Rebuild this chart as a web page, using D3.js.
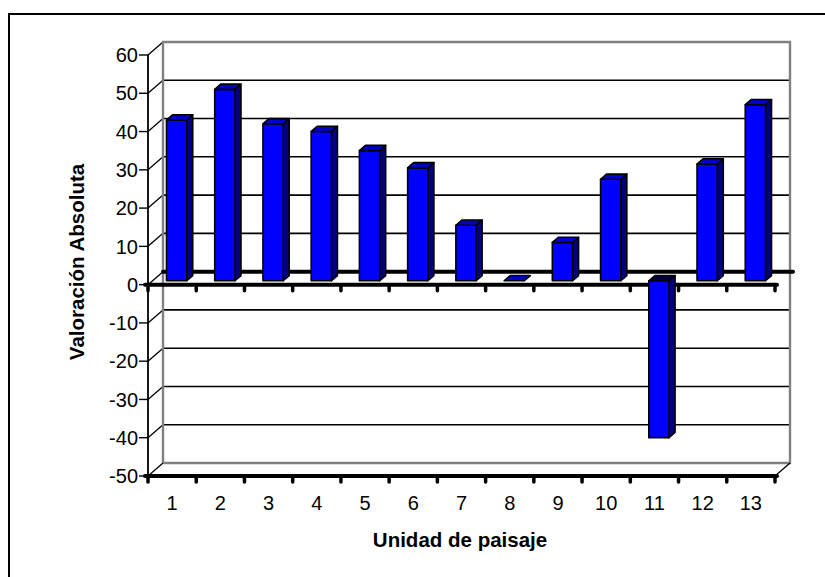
<!DOCTYPE html>
<html><head><meta charset="utf-8">
<script src="https://cdn.jsdelivr.net/npm/d3@7"></script>
<style>body{margin:0;background:#fff}svg{display:block}text{font-family:Arial,"Liberation Sans",sans-serif}</style>
</head><body>
<svg id="c" width="825" height="577"></svg>
<script>
const categories = ["1","2","3","4","5","6","7","8","9","10","11","12","13"];
const values = [42, 50, 41, 39, 34, 29.5, 14.5, 0, 10, 26.5, -41, 30.5, 46];
const yTicks = [-50,-40,-30,-20,-10,0,10,20,30,40,50,60];
const xTitle = "Unidad de paisaje";
const yTitle = "Valoración Absoluta";

const svg = d3.select("#c");
const DX = 15, DY = -13;
const x = d3.scaleBand().domain(categories).range([148, 775]);
const y = d3.scaleLinear().domain([-50, 60]).range([476, 55]);
const P = (px, py, d) => [px + DX*d, py + DY*d];
const line = d3.line();

// outer border
svg.append("rect").attr("x",9).attr("y",14).attr("width",840).attr("height",600)
  .attr("fill","none").attr("stroke","#000").attr("stroke-width",2);

const x0 = x.range()[0], x1 = x.range()[1];
const g = svg.append("g");

// back wall gridlines
yTicks.filter(t => t > -50 && t < 60 && t !== 0).forEach(t => {
  const a = P(x0, y(t), 1), b = P(x1, y(t), 1);
  g.append("path").attr("d", line([a,b])).attr("stroke","#000").attr("stroke-width",1.6).attr("fill","none");
});
// left wall diagonals
yTicks.forEach(t => {
  g.append("path").attr("d", line([P(x0,y(t),0), P(x0,y(t),1)])).attr("stroke","#000").attr("stroke-width",1.3).attr("fill","none");
});
// back wall border (gray)
g.append("path").attr("d", line([P(x0,y(-50),1), P(x0,y(60),1), P(x1,y(60),1), P(x1,y(-50),1), P(x0,y(-50),1)]))
  .attr("stroke","#808080").attr("stroke-width",2.4).attr("fill","none");
// floor right diagonal
g.append("path").attr("d", line([P(x1,y(-50),0), P(x1,y(-50),1)])).attr("stroke","#000").attr("stroke-width",1.3).attr("fill","none");
// back zero thick line
g.append("path").attr("d", line([P(x0,y(0),1), P(x1+3,y(0),1)])).attr("stroke","#000").attr("stroke-width",4).attr("stroke-linecap","round");

// value axis
g.append("path").attr("d", line([[x0,y(60)],[x0,y(-50)]])).attr("stroke","#000").attr("stroke-width",1.8);
yTicks.forEach(t => {
  g.append("path").attr("d", line([[x0-9,y(t)],[x0,y(t)]])).attr("stroke","#000").attr("stroke-width",1.4);
  g.append("text").attr("x", x0-10).attr("y", y(t)).attr("dy","0.36em").attr("text-anchor","end")
    .attr("font-size",20).text(t);
});

// category axes (front bottom and front zero)
[-50, 0].forEach(v => {
  g.append("path").attr("d", line([[x0-3,y(v)],[x1+2,y(v)]])).attr("stroke","#000").attr("stroke-width",4).attr("stroke-linecap","round");
  d3.range(categories.length+1).forEach(i => {
    const xx = x0 + i*x.bandwidth();
    g.append("path").attr("d", line([[xx,y(v)],[xx,y(v)+6]])).attr("stroke","#000").attr("stroke-width",3.5).attr("stroke-linecap","round");
  });
});
categories.forEach(c => {
  g.append("text").attr("x", x(c)+x.bandwidth()/2).attr("y", 510).attr("text-anchor","middle")
    .attr("font-size",20).text(c);
});

// bars
const bw = x.bandwidth()*0.42, dF = 0.3, dB = 0.7;
const bars = g.append("g");
categories.forEach((c,i) => {
  const v = values[i];
  const cx = x(c) + x.bandwidth()/2;
  const [fx0, yTop] = P(cx - bw/2, y(Math.max(v,0)), dF);
  const [fx1, yBot] = P(cx + bw/2, y(Math.min(v,0)), dF);
  const sdx = DX*(dB-dF), sdy = DY*(dB-dF);
  const gb = bars.append("g").attr("stroke","#000").attr("stroke-width",1.6).attr("stroke-linejoin","round");
  if (yBot - yTop > 0.5) {
    gb.append("path").attr("d", line([[fx1,yTop],[fx1+sdx,yTop+sdy],[fx1+sdx,yBot+sdy],[fx1,yBot]])+"Z").attr("fill","#000080");
    gb.append("rect").attr("x",fx0).attr("y",yTop).attr("width",fx1-fx0).attr("height",yBot-yTop).attr("fill","#0000ff");
  }
  gb.append("path").attr("d", line([[fx0,yTop],[fx0+sdx,yTop+sdy],[fx1+sdx,yTop+sdy],[fx1,yTop]])+"Z")
    .attr("fill", v < 0 ? "#000040" : "#0000cc");
});

// titles
svg.append("text").attr("x", 460).attr("y", 547).attr("text-anchor","middle")
  .attr("font-size",20.5).attr("font-weight","bold").text(xTitle);
svg.append("text").attr("transform","translate(84,262) rotate(-90)").attr("text-anchor","middle")
  .attr("font-size",20.5).attr("font-weight","bold").text(yTitle);
</script>
</body></html>
